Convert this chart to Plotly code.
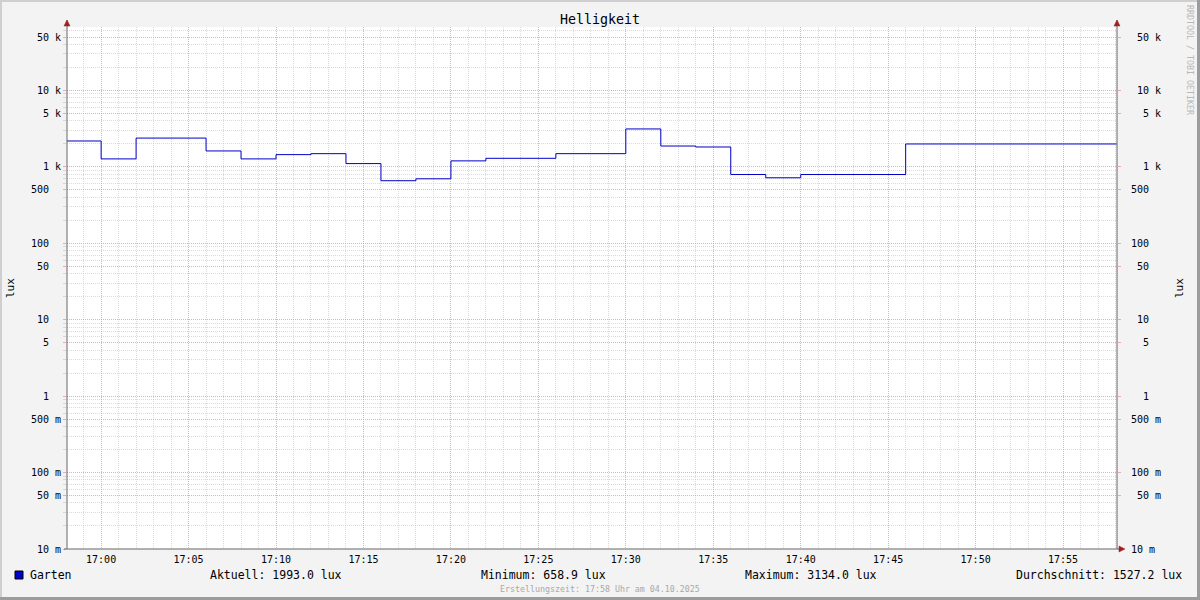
import plotly.graph_objects as go

# ---------------- data ----------------
day = "2025-10-04"
step_times = ["16:58", "17:00", "17:02", "17:06", "17:08", "17:10", "17:12", "17:14",
              "17:16", "17:18", "17:20", "17:22", "17:26", "17:30", "17:32", "17:34",
              "17:36", "17:38", "17:40", "17:46", "17:58:04"]
lux_values = [2180, 1271, 2380, 1615, 1271, 1445, 1488, 1104,
              658.9, 698, 1197, 1294, 1488, 3134, 1873, 1820,
              794, 720, 794, 1993, 1993]

ytick_vals = [0.01, 0.05, 0.1, 0.5, 1, 5, 10, 50, 100, 500, 1000, 5000, 10000, 50000]
ytick_text = ["10 m", " 50 m", "100 m", "500 m", "  1  ", "  5  ", " 10  ", " 50  ",
              "100  ", "500  ", "  1 k", "  5 k", " 10 k", " 50 k"]
minor_mults = [2, 3, 4, 6, 7, 8, 9]

series_name = "Garten"
stat_current = "1993.0"
stat_min = "658.9"
stat_max = "3134.0"
stat_avg = "1527.2"
title = "Helligkeit"
unit = "lux"
footer = "Erstellungszeit: 17:58 Uhr am 04.10.2025"
watermark = "RRDTOOL / TOBI OETIKER"

x_start = day + " 16:58:03"
x_end = day + " 17:58:05"

# ---------------- layout helpers ----------------
W, H = 1200, 600
PL, PR, PT, PB = 67, 1117, 27, 549
FONT = "DejaVu Sans Mono"


def fx(px):
    return (px - PL) / (PR - PL)


def fy(py):
    return (PB - py) / (PB - PT)


def nb(s):
    return s.replace(" ", "\u00a0")


minor_vals = []
for e in range(-2, 5):
    for m in minor_mults:
        v = m * 10 ** e
        if v < 70000:
            minor_vals.append(v)

xs = [day + " " + t for t in step_times]

MAJOR_GRID = "rgba(225,140,140,0.7)"
MINOR_GRID = "rgba(190,190,190,0.55)"
DASH = "1px,1px"

fig = go.Figure()
fig.add_trace(go.Scatter(
    x=xs, y=lux_values, mode="lines", line=dict(color="#0000c8", width=1, shape="hv"),
    hoverinfo="skip", showlegend=False))
fig.add_trace(go.Scatter(
    x=xs, y=lux_values, mode="lines", line=dict(width=0), yaxis="y2",
    hoverinfo="skip", showlegend=False, opacity=0))

yaxis_common = dict(
    type="log", range=[-2, 4.83], tickmode="array", tickvals=ytick_vals,
    ticktext=[nb(t) for t in ytick_text], showline=False, zeroline=False,
    tickfont=dict(family=FONT, size=10, color="#000000"),
    ticks="outside", ticklen=3, tickcolor=MAJOR_GRID,
)

fig.update_layout(
    width=W, height=H,
    margin=dict(l=PL, r=W - PR, t=PT, b=H - PB, pad=0),
    paper_bgcolor="#f3f3f3", plot_bgcolor="#ffffff",
    showlegend=False,
    xaxis=dict(
        type="date", range=[x_start, x_end], tick0=day + " 17:00", dtick=300000,
        tickformat="%H:%M", showgrid=True, gridcolor=MAJOR_GRID, griddash=DASH, gridwidth=1,
        ticks="", showline=False, zeroline=False, ticklabelstandoff=3,
        tickfont=dict(family=FONT, size=10, color="#000000"),
        minor=dict(dtick=60000, tick0=day + " 17:00", showgrid=True, gridcolor=MINOR_GRID,
                   griddash=DASH, gridwidth=1, ticks=""),
    ),
    yaxis=dict(
        **yaxis_common, side="left", showgrid=True, gridcolor=MAJOR_GRID, griddash=DASH,
        gridwidth=1,
        minor=dict(tickmode="array", tickvals=minor_vals, showgrid=True, gridcolor=MINOR_GRID,
                   griddash=DASH, gridwidth=1, ticks="outside", ticklen=3, tickcolor=MINOR_GRID),
    ),
    yaxis2=dict(
        **yaxis_common, side="right", overlaying="y", showgrid=False, ticklabelstandoff=8,
    ),
)

shapes = []
AX = "#666666"
ARROW = "#a02020"
# axis lines
shapes.append(dict(type="line", xref="paper", yref="paper", x0=fx(PL), x1=fx(PL),
                   y0=fy(PB), y1=fy(20), line=dict(color=AX, width=1)))
shapes.append(dict(type="line", xref="paper", yref="paper", x0=fx(PR), x1=fx(PR),
                   y0=fy(PB), y1=fy(20), line=dict(color=AX, width=1)))
shapes.append(dict(type="line", xref="paper", yref="paper", x0=fx(PL - 3), x1=fx(1122),
                   y0=fy(PB), y1=fy(PB), line=dict(color=AX, width=1)))
# arrows


def tri(pts):
    p = "M " + " L ".join(f"{fx(a)},{fy(b)}" for a, b in pts) + " Z"
    return dict(type="path", xref="paper", yref="paper", path=p,
                fillcolor=ARROW, line=dict(color=ARROW, width=0.5))


shapes.append(tri([(PL - 3, 26), (PL + 3, 26), (PL, 20)]))
shapes.append(tri([(PR - 3, 26), (PR + 3, 26), (PR, 20)]))
shapes.append(tri([(1119, PB - 3), (1119, PB + 3), (1125, PB)]))

# legend colour box
shapes.append(dict(type="rect", xref="paper", yref="paper", x0=fx(15), x1=fx(23),
                   y0=fy(579), y1=fy(571), fillcolor="#0000c8", line=dict(color="#000000", width=1)))

# frame
LIGHT = "#cfcfcf"
DARK = "#9c9c9c"
shapes.append(dict(type="rect", xref="paper", yref="paper", x0=fx(0), x1=fx(W), y0=fy(0), y1=fy(2),
                   fillcolor=LIGHT, line=dict(width=0)))
shapes.append(dict(type="rect", xref="paper", yref="paper", x0=fx(0), x1=fx(2), y0=fy(0), y1=fy(H),
                   fillcolor=LIGHT, line=dict(width=0)))
shapes.append(dict(type="rect", xref="paper", yref="paper", x0=fx(0), x1=fx(W), y0=fy(H - 3), y1=fy(H),
                   fillcolor=DARK, line=dict(width=0)))
shapes.append(dict(type="rect", xref="paper", yref="paper", x0=fx(W - 3), x1=fx(W), y0=fy(0), y1=fy(H),
                   fillcolor=DARK, line=dict(width=0)))
fig.update_layout(shapes=shapes)

ann = []


def text(s, px, py, size, anchor="left", color="#000000", angle=0, yanchor="middle"):
    ann.append(dict(text=nb(s), x=fx(px), y=fy(py), xref="paper", yref="paper",
                    xanchor=anchor, yanchor=yanchor, showarrow=False, textangle=angle,
                    font=dict(family=FONT, size=size, color=color)))


text(title, 600, 19, 13.3, anchor="center")
text(unit, 10, 288, 11, anchor="center", angle=-90)
text(unit, 1179, 288, 11, anchor="center", angle=-90)
text(series_name, 28, 575, 11.5)
text(f"Aktuell: {stat_current} {unit}", 208, 575, 11.5)
text(f"Minimum: {stat_min} {unit}", 479, 575, 11.5)
text(f"Maximum: {stat_max} {unit}", 743, 575, 11.5)
text(f"Durchschnitt: {stat_avg} {unit}", 1014, 575, 11.5)
text(footer, 600, 589, 8.3, anchor="center", color="#a8a8a8")
text(watermark, 1190, 60, 8.3, anchor="center", color="#b8b8b8", angle=90)
fig.update_layout(annotations=ann)

fig.write_html("out.html", post_script="document.body.style.margin='0';",
               config={"displayModeBar": False})
